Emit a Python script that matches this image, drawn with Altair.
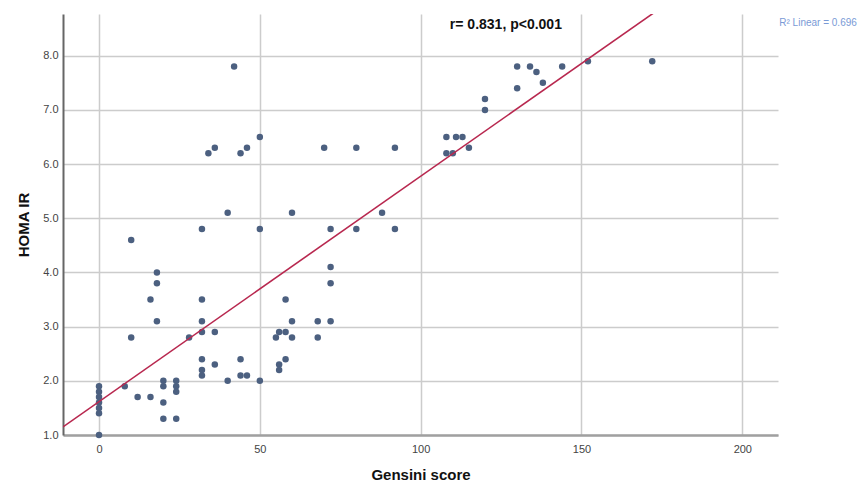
import altair as alt
import pandas as pd

# Gensini score (x) and HOMA IR (y)
gensini = [0, 0, 0, 0, 0, 0, 0,
           8, 10, 10, 12, 16, 16, 18, 18, 18, 20, 20, 20, 20, 24, 24, 24, 24, 28,
           32, 32, 32, 32, 32, 32, 32, 34, 36, 36, 36, 40, 40, 42, 44, 44, 44, 46, 46,
           50, 50, 50, 55, 56, 56, 56, 58, 58, 58, 60, 60, 60, 68, 68, 70, 72, 72, 72, 72,
           80, 80, 88, 92, 92, 108, 111, 113, 108, 110, 115, 120, 120, 130, 130, 134,
           136, 138, 144, 152, 172]
homa = [1.9, 1.8, 1.7, 1.6, 1.5, 1.4, 1.0,
        1.9, 4.6, 2.8, 1.7, 1.7, 3.5, 4.0, 3.8, 3.1, 2.0, 1.9, 1.6, 1.3, 2.0, 1.9, 1.8, 1.3, 2.8,
        4.8, 3.5, 3.1, 2.9, 2.4, 2.2, 2.1, 6.2, 6.3, 2.9, 2.3, 5.1, 2.0, 7.8, 6.2, 2.4, 2.1, 6.3, 2.1,
        6.5, 4.8, 2.0, 2.8, 2.9, 2.3, 2.2, 3.5, 2.9, 2.4, 5.1, 3.1, 2.8, 3.1, 2.8, 6.3, 4.8, 4.1, 3.8, 3.1,
        6.3, 4.8, 5.1, 6.3, 4.8, 6.5, 6.5, 6.5, 6.2, 6.2, 6.3, 7.2, 7.0, 7.8, 7.4, 7.8,
        7.7, 7.5, 7.8, 7.9, 7.9]

# Fit line as drawn in the picture
fit_intercept = 1.616
fit_slope = 0.0416
x_domain = [-11.2, 211.1]
y_domain = [1.0, 8.77]

x_ticks = [0, 50, 100, 150, 200]
y_ticks = [1, 2, 3, 4, 5, 6, 7, 8]

annot_r = "r= 0.831, p<0.001"
annot_r2 = "R² Linear = 0.696"

df = pd.DataFrame({"Gensini": gensini, "HOMA": homa})
fit_df = pd.DataFrame({"Gensini": x_domain,
                       "HOMA": [fit_intercept + fit_slope * v for v in x_domain]})

font = "Liberation Sans"

xscale = alt.Scale(domain=x_domain, nice=False, zero=False)
yscale = alt.Scale(domain=y_domain, nice=False, zero=False)

xaxis = alt.Axis(values=x_ticks, title="Gensini score", grid=True, gridColor="#cccccc",
                 gridWidth=1.5, domainColor="#a0a0a0", domainWidth=2.5, ticks=False,
                 labelFont=font, labelFontSize=11, labelColor="#444444", labelPadding=8,
                 titleFont=font, titleFontSize=15, titleFontWeight="bold", titleColor="#111111",
                 titlePadding=13)
yaxis = alt.Axis(values=y_ticks, format=".1f", title="HOMA IR", grid=True, gridColor="#cccccc",
                 gridWidth=1.5, domainColor="#666666", domainWidth=2, ticks=False,
                 labelFont=font, labelFontSize=11, labelColor="#444444", labelPadding=5,
                 titleFont=font, titleFontSize=15, titleFontWeight="bold", titleColor="#111111",
                 titlePadding=11)

points = alt.Chart(df).mark_circle(size=42, color="#4c6080", opacity=1).encode(
    x=alt.X("Gensini:Q", scale=xscale, axis=xaxis),
    y=alt.Y("HOMA:Q", scale=yscale, axis=yaxis),
)

line = alt.Chart(fit_df).mark_line(color="#b8284f", strokeWidth=1.6, clip=True).encode(
    x=alt.X("Gensini:Q", scale=xscale),
    y=alt.Y("HOMA:Q", scale=yscale),
)

txt_r = alt.Chart(pd.DataFrame({"x": [126.5], "y": [8.56], "t": [annot_r]})).mark_text(
    font=font, fontSize=14, fontWeight="bold", color="#111111", align="center", baseline="middle"
).encode(x=alt.X("x:Q", scale=xscale), y=alt.Y("y:Q", scale=yscale), text="t:N")

txt_r2 = alt.Chart(pd.DataFrame({"x": [211.5], "y": [8.6], "t": [annot_r2]})).mark_text(
    font=font, fontSize=10, color="#7a9ad6", align="left", baseline="middle"
).encode(x=alt.X("x:Q", scale=xscale), y=alt.Y("y:Q", scale=yscale), text="t:N")

chart = alt.layer(points, line, txt_r, txt_r2).properties(
    width=715, height=421,
    autosize=alt.AutoSizeParams(type="none"),
    padding={"left": 55, "top": 6, "right": 80, "bottom": 50},
).configure_view(stroke=None)

chart.save("out.html", embed_options={"renderer": "svg", "actions": False})
